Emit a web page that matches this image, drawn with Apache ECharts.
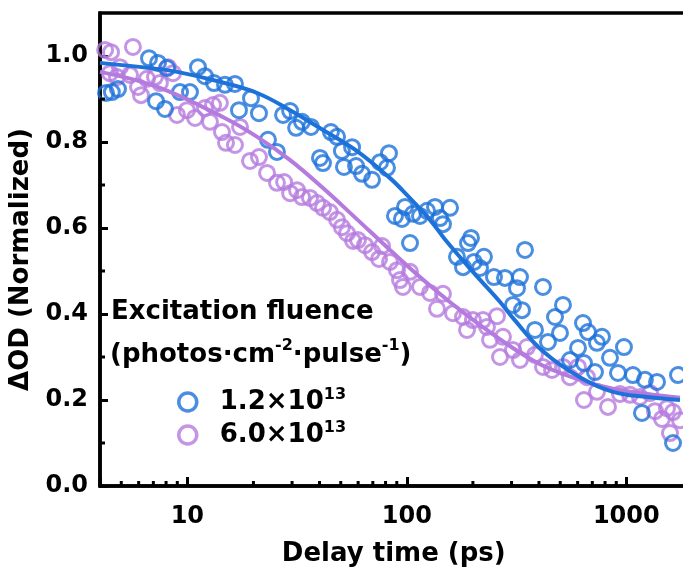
<!DOCTYPE html>
<html><head><meta charset="utf-8">
<script src="https://cdn.jsdelivr.net/npm/echarts@6/dist/echarts.min.js"></script>
<style>html,body{margin:0;padding:0;background:#fff}#c{width:683px;height:579px}</style>
</head><body><div id="c"></div>
<script>
// Delay time (ps), ΔOD (normalized)
const blueData = [
[4.26,0.914],[4.53,0.916],[4.83,0.923],[6.69,0.995],[7.35,0.984],[8.08,0.972],[7.20,0.895],[7.91,0.877],
[9.26,0.916],[10.28,0.916],[11.18,0.974],[12.03,0.953],[13.22,0.937],[14.84,0.933],[16.48,0.935],[17.19,0.874],
[19.5,0.902],[21.2,0.867],[23.3,0.805],[25.6,0.777],[27.3,0.863],[29.4,0.872],[31.3,0.833],[33.3,0.847],
[36.6,0.835],[40.2,0.763],[41.5,0.751],[45.1,0.823],[48.1,0.812],[50.6,0.779],[51.7,0.742],[56.3,0.788],
[58.7,0.744],[62.5,0.726],[69.4,0.712],[75.5,0.753],[81.2,0.740],[82.9,0.774],[88.3,0.628],[95.0,0.621],
[98.1,0.649],[103.4,0.565],[106.7,0.633],[114.8,0.628],[123.6,0.640],[134.4,0.649],[141.6,0.623],[146.1,0.609],
[157.3,0.647],[169.2,0.533],[180.3,0.509],[190.0,0.565],[196.0,0.577],[202.2,0.521],[215.4,0.507],[224.6,0.533],
[249.5,0.486],[280.0,0.484],[317.6,0.460],[327.7,0.486],[304.5,0.421],[334.7,0.409],[345.4,0.549],[383.6,0.363],
[417.2,0.463],[439.6,0.335],[473.2,0.393],[498.6,0.356],[514.5,0.421],[553.7,0.293],[602.4,0.321],[634.8,0.379],
[641.3,0.286],[668.9,0.358],[719.7,0.265],[735.0,0.333],[774.6,0.347],[842.4,0.298],[916.1,0.263],[975.6,0.323],
[1072,0.258],[1178,0.170],[1216,0.247],[1380,0.242],[1632,0.100],[1720,0.258]
];
const purpleData = [
[4.22,1.014],[4.49,1.009],[5.65,1.021],[4.44,0.960],[4.93,0.974],[4.78,0.951],[5.48,0.956],[5.96,0.928],
[6.15,0.909],[6.55,0.947],[7.12,0.951],[7.50,0.937],[8.16,0.974],[8.60,0.960],[8.97,0.863],[9.96,0.874],
[10.84,0.856],[12.03,0.879],[13.09,0.886],[14.08,0.891],[12.68,0.847],[14.38,0.823],[15.0,0.798],[16.48,0.793],
[17.38,0.835],[19.3,0.756],[21.2,0.765],[23.07,0.728],[25.6,0.705],[27.6,0.707],[29.4,0.681],[31.6,0.688],
[33.3,0.672],[36.2,0.670],[39.0,0.658],[41.5,0.647],[44.6,0.637],[48.1,0.619],[50.6,0.602],[53.4,0.588],
[56.9,0.570],[59.9,0.572],[64.5,0.560],[69.4,0.544],[77.1,0.558],[74.7,0.528],[83.8,0.521],[90.2,0.502],
[93.1,0.479],[103.4,0.498],[96.0,0.463],[114.8,0.463],[127.5,0.449],[137.2,0.412],[146.1,0.447],[162.3,0.402],
[180.3,0.393],[188.0,0.363],[200.1,0.386],[222.3,0.386],[231.8,0.370],[239.3,0.340],[257.5,0.395],[265.7,0.300],
[274.2,0.347],[304.5,0.316],[327.7,0.293],[352.7,0.323],[383.6,0.305],[417.2,0.277],[458.6,0.270],[514.5,0.277],
[553.7,0.253],[602.4,0.277],[662.1,0.253],[641.3,0.200],[735.0,0.219],[825.2,0.184],[935.5,0.214],[1039,0.212],
[1154,0.207],[1282,0.216],[1351,0.174],[1454,0.156],[1532,0.181],[1581,0.123],[1632,0.172],[1756,0.153]
];
const blueFit = [
[4,0.984],[6.75,0.972],[9.0,0.963],[14.08,0.940],[20.8,0.914],[29.4,0.874],[41.5,0.828],[58.5,0.781],
[83.8,0.716],[100,0.677],[127.5,0.619],[150,0.572],[200,0.498],[266,0.428],[304,0.391],[420,0.312],
[614,0.253],[870,0.219],[1250,0.207],[1756,0.200]
];
const purpleFit = [
[4,0.963],[7.3,0.928],[14.5,0.858],[20.8,0.812],[29.4,0.758],[41.5,0.693],[58.5,0.623],[83.8,0.549],
[114.8,0.486],[157,0.428],[216,0.374],[304,0.321],[420,0.279],[614,0.247],[870,0.226],[1250,0.214],[1756,0.205]
];
const xTickLabels = [10, 100, 1000];
const xMinorTicks = [5,6,7,8,9,20,30,40,50,60,70,80,90,200,300,400,500,600,700,800,900];
const yMinorTicks = [0.1,0.3,0.5,0.7,0.9];
const seriesNames = ['1.2×10^13', '6.0×10^13'];
const legendTitle = 'Excitation fluence';
const unitParts = ['(photos·cm', '-2', '·pulse', '-1', ')'];
const xName = 'Delay time (ps)';
const yName = 'ΔOD (Normalized)';

const BLUE = '#1d72da';
const PURPLE = '#b57ade';
const FONT = '"DejaVu Sans", "Liberation Sans", Arial, sans-serif';

const chart = echarts.init(document.getElementById('c'), null, {renderer: 'canvas'});

const sup = {fontSize: 16, fontWeight: 'bold', fontFamily: FONT, color: '#000', verticalAlign: 'top', lineHeight: 22};
const main = {fontSize: 26, fontWeight: 'bold', fontFamily: FONT, color: '#000', lineHeight: 34};

function tickSeries(vals, horizontal) {
  return {
    type: 'custom', silent: true, z: 10,
    data: vals.map(v => horizontal ? [v, 0] : [4, v]),
    renderItem: function (params, api) {
      const p = api.coord([api.value(0), api.value(1)]);
      const shape = horizontal
        ? {x1: p[0], y1: p[1], x2: p[0], y2: p[1] - 5}
        : {x1: p[0], y1: p[1], x2: p[0] + 5, y2: p[1]};
      return {type: 'line', shape: shape, style: {stroke: '#000', lineWidth: 3}};
    }
  };
}

chart.setOption({
  animation: false,
  backgroundColor: '#fff',
  title: [
    {text: legendTitle, left: 111, top: 295, padding: 0,
     textStyle: {fontSize: 26, fontWeight: 'bold', fontFamily: FONT, color: '#000', lineHeight: 34}},
    {text: `{a|${unitParts[0]}}{s|${unitParts[1]}}{a|${unitParts[2]}}{s|${unitParts[3]}}{a|${unitParts[4]}}`,
     left: 110, top: 338, padding: 0,
     textStyle: {rich: {a: main, s: sup}}}
  ],
  legend: {
    orient: 'vertical', left: 177, top: 387, padding: 0,
    itemWidth: 18, itemHeight: 18, itemGap: 5,
    data: [
      {name: seriesNames[0], icon: 'circle', itemStyle: {color: 'transparent', borderColor: BLUE, borderWidth: 3.5}},
      {name: seriesNames[1], icon: 'circle', itemStyle: {color: 'transparent', borderColor: PURPLE, borderWidth: 3.5}}
    ],
    formatter: function (name) {
      const parts = name.split('^');
      return `{g|}{a|${parts[0]}}{s|${parts[1]}}`;
    },
    textStyle: {rich: {g: {width: 18},
                       a: {fontSize: 26, fontWeight: 'bold', fontFamily: FONT, color: '#000', lineHeight: 30},
                       s: {fontSize: 16, fontWeight: 'bold', fontFamily: FONT, color: '#000', verticalAlign: 'top', lineHeight: 20}}}
  },
  grid: {left: 100, top: 13, right: -4.5, bottom: 93, show: true, borderColor: '#000', borderWidth: 3.5,
         containLabel: false, outerBoundsMode: 'none'},
  xAxis: {
    type: 'log', logBase: 10, min: 4, max: 1900,
    name: xName, nameLocation: 'middle', nameGap: 55,
    nameTextStyle: {fontSize: 26, fontWeight: 'bold', fontFamily: FONT, color: '#000'},
    axisLine: {show: true, lineStyle: {color: '#000', width: 3.5}},
    axisTick: {show: true, inside: true, length: 9, lineStyle: {color: '#000', width: 3}},
    axisLabel: {margin: 19, fontSize: 24, fontWeight: 'bold', fontFamily: FONT, color: '#000',
      formatter: function (v) { const r = Math.round(v); return xTickLabels.indexOf(r) >= 0 ? String(r) : ''; }},
    splitLine: {show: false}
  },
  yAxis: {
    type: 'value', min: 0, max: 1.1, interval: 0.2,
    name: yName, nameLocation: 'middle', nameGap: 56, nameRotate: 90,
    nameTextStyle: {fontSize: 26, fontWeight: 'bold', fontFamily: FONT, color: '#000', padding: [0, 20, 0, 0]},
    axisLine: {show: true, lineStyle: {color: '#000', width: 3.5}},
    axisTick: {show: true, inside: true, length: 8, lineStyle: {color: '#000', width: 3}},
    axisLabel: {margin: 12, fontSize: 24, fontWeight: 'bold', fontFamily: FONT, color: '#000', showMaxLabel: false,
      formatter: v => v.toFixed(1)},
    splitLine: {show: false}
  },
  series: [
    {name: seriesNames[1], type: 'scatter', data: purpleData, symbol: 'circle', symbolSize: 15, z: 2,
     itemStyle: {color: 'transparent', borderColor: PURPLE, borderWidth: 3}},
    {name: seriesNames[0], type: 'scatter', data: blueData, symbol: 'circle', symbolSize: 15, z: 3,
     itemStyle: {color: 'transparent', borderColor: BLUE, borderWidth: 3}},
    {type: 'line', data: purpleFit, smooth: 0.4, symbol: 'none', z: 4, lineStyle: {color: PURPLE, width: 4}},
    {type: 'line', data: blueFit, smooth: 0.4, symbol: 'none', z: 5, lineStyle: {color: BLUE, width: 4}},
    tickSeries(xMinorTicks, true),
    tickSeries(yMinorTicks, false)
  ]
});
</script></body></html>
